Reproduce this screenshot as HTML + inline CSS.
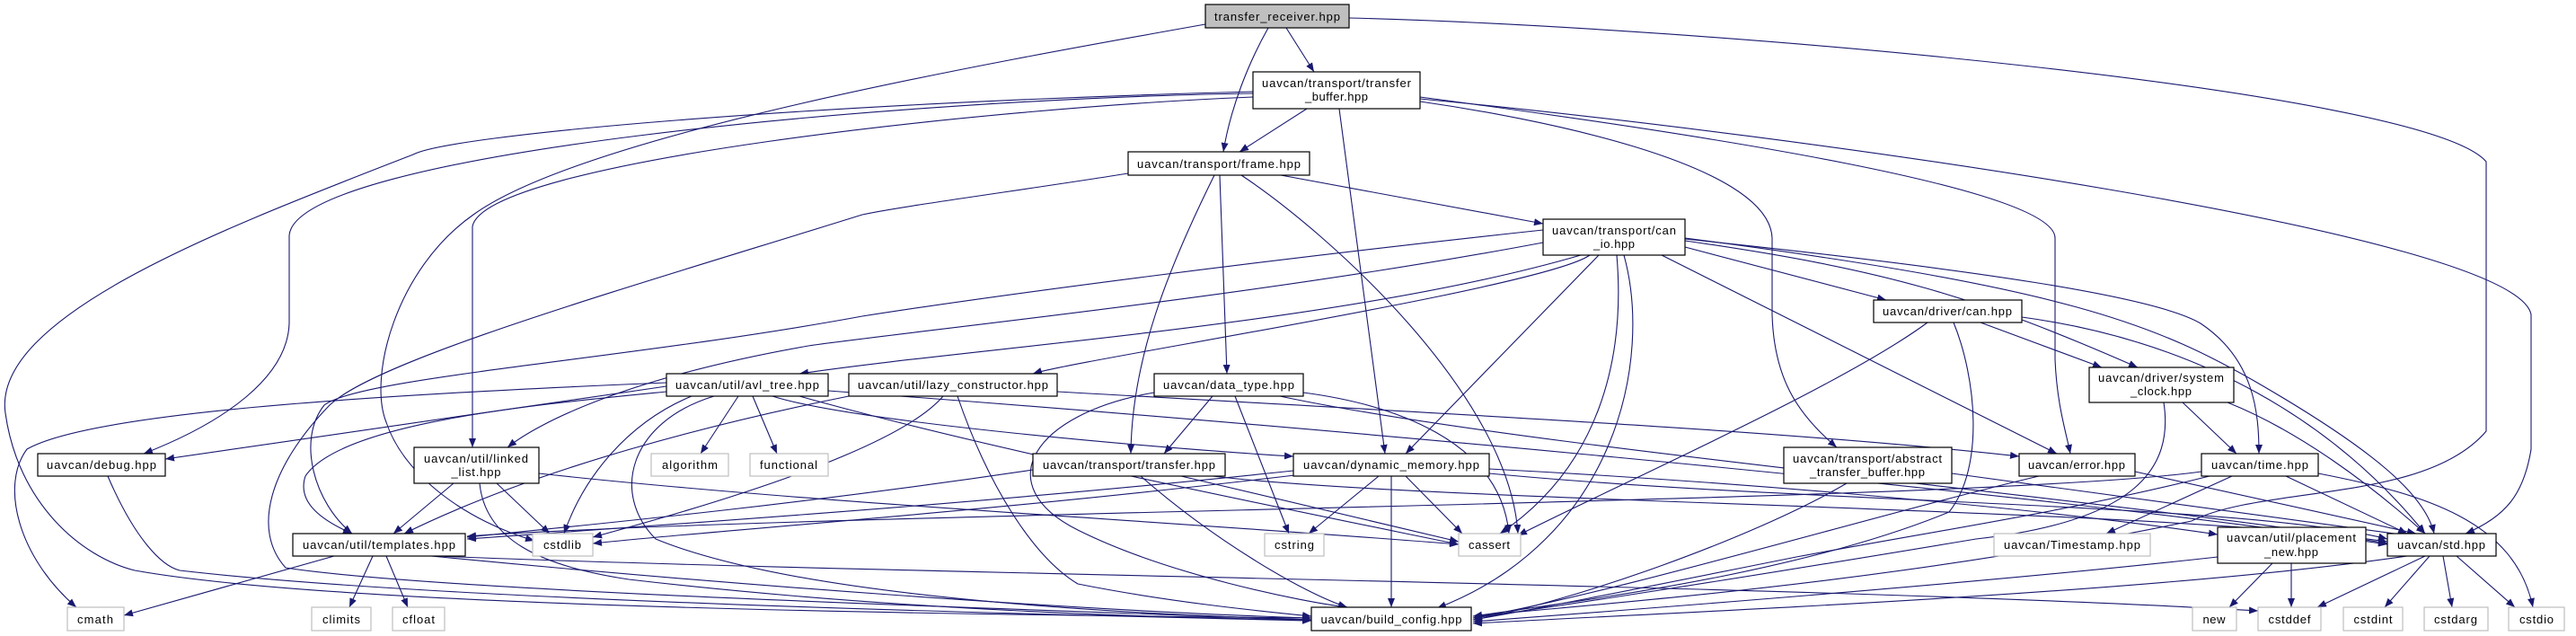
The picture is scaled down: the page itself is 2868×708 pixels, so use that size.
<!DOCTYPE html>
<html><head><meta charset="utf-8"><style>
html,body{margin:0;padding:0;background:#fff;}
svg{display:block;}
text{font-family:"Liberation Sans","DejaVu Sans",sans-serif;font-size:13px;fill:#000;text-anchor:middle;}
.e{fill:none;stroke:#191970;stroke-width:1.1;marker-end:url(#a);}
.n{fill:#fff;stroke:#000;stroke-width:1.2;}
.g{fill:#fff;stroke:#bfbfbf;stroke-width:1.2;}
</style></head><body>
<svg width="2868" height="708" viewBox="0 0 2868 708" xmlns="http://www.w3.org/2000/svg">
<defs><marker id="a" viewBox="0 0 10 8" refX="10" refY="4" markerWidth="10" markerHeight="8" markerUnits="userSpaceOnUse" orient="auto"><path d="M0,0 L10,4 L0,8 z" fill="#191970"/></marker></defs>
<g>
<path class="e" d="M1432,31 L1463,80"/>
<path class="e" d="M1412,31 C1390,70 1370,120 1362,169"/>
<path class="e" d="M1342,27 C1100,70 650,150 527,239 C440,300 410,420 430,470 C450,530 520,580 595,602"/>
<path class="e" d="M1502,20 C1900,30 2700,100 2768,180 L2768,480 C2700,560 2520,540 2440,580 C2100,650 1800,670 1640,686"/>
<path class="e" d="M1581,110 C2000,150 2800,260 2818,350 L2818,500 C2810,550 2790,575 2745,594"/>
<path class="e" d="M1581,108 C1900,150 2288,210 2288,265 L2288,400 C2290,450 2300,480 2305,505"/>
<path class="e" d="M1581,113 C1700,130 1970,180 1973,265 L1973,350 C1975,420 2000,460 2045,498"/>
<path class="e" d="M1491,121 L1542,505"/>
<path class="e" d="M1455,121 L1380,169"/>
<path class="e" d="M1395,108 C1100,120 540,180 526,252 L526,498"/>
<path class="e" d="M1395,104 C1000,110 330,170 322,262 L322,360 C320,420 250,470 160,505"/>
<path class="e" d="M1395,102 C900,115 500,150 460,172 C260,250 -10,350 6,460 C20,560 90,620 150,635 C400,680 1200,685 1460,688"/>
<path class="e" d="M1426,195 L1718,249"/>
<path class="e" d="M1358,195 L1366,416"/>
<path class="e" d="M1352,195 C1300,300 1260,400 1259,505"/>
<path class="e" d="M1382,195 C1480,260 1680,440 1690,594"/>
<path class="e" d="M1256,193 C1150,210 1000,230 960,239 C700,320 420,400 367,451 C300,520 280,590 318,632 C500,660 1200,680 1460,690"/>
<path class="e" d="M1760,284 C1500,360 1100,385 890,416"/>
<path class="e" d="M1770,284 C1720,320 1200,400 1150,416"/>
<path class="e" d="M1718,270 C1400,330 1000,370 900,385 C700,420 600,470 565,498"/>
<path class="e" d="M1718,256 C1400,290 1100,330 960,352 C700,400 400,420 361,451 C330,490 350,560 392,594"/>
<path class="e" d="M1780,284 L1565,505"/>
<path class="e" d="M1800,284 C1810,400 1780,520 1670,594"/>
<path class="e" d="M1808,284 C1840,400 1800,600 1600,677"/>
<path class="e" d="M1876,275 L2100,334"/>
<path class="e" d="M1876,268 C2100,300 2200,330 2380,409"/>
<path class="e" d="M1876,266 C2200,300 2400,330 2450,360 C2510,400 2515,460 2515,505"/>
<path class="e" d="M1876,265 C2300,320 2400,360 2520,430 C2640,500 2700,550 2710,594"/>
<path class="e" d="M1850,284 L2290,505"/>
<path class="e" d="M2205,359 L2340,409"/>
<path class="e" d="M2251,353 C2450,380 2600,470 2700,594"/>
<path class="e" d="M2146,359 C2050,430 1800,540 1690,596"/>
<path class="e" d="M2175,359 C2200,420 2210,520 2170,570 C2000,640 1750,670 1640,686"/>
<path class="e" d="M2430,448 L2490,505"/>
<path class="e" d="M2480,448 C2560,480 2640,540 2700,594"/>
<path class="e" d="M2409,448 C2420,520 2380,580 2200,600 C1900,650 1700,680 1640,688"/>
<path class="e" d="M2545,530 L2680,594"/>
<path class="e" d="M2485,530 L2345,594"/>
<path class="e" d="M2581,527 C2700,550 2800,580 2820,676"/>
<path class="e" d="M2451,525 C2200,560 900,570 520,597"/>
<path class="e" d="M2460,530 C2300,570 2160,590 2000,620 C1800,660 1700,680 1640,690"/>
<path class="e" d="M2377,525 L2690,594"/>
<path class="e" d="M2270,530 C2100,570 1800,660 1640,688"/>
<path class="e" d="M2173,527 L2680,596"/>
<path class="e" d="M2056,538 C1950,600 1750,670 1640,690"/>
<path class="e" d="M2530,627 L2482,676"/>
<path class="e" d="M2551,627 L2551,676"/>
<path class="e" d="M2469,620 C2200,650 1800,680 1640,692"/>
<path class="e" d="M2700,619 L2580,676"/>
<path class="e" d="M2705,619 L2655,676"/>
<path class="e" d="M2720,619 L2730,676"/>
<path class="e" d="M2735,619 L2800,676"/>
<path class="e" d="M2680,619 C2400,660 1900,680 1640,694"/>
<path class="e" d="M1440,524 C1100,560 800,580 520,600"/>
<path class="e" d="M1535,530 L1457,594"/>
<path class="e" d="M1565,530 L1628,594"/>
<path class="e" d="M1549,530 L1549,676"/>
<path class="e" d="M1658,527 C2000,560 2500,560 2658,600"/>
<path class="e" d="M1658,522 C2000,540 2300,570 2469,595"/>
<path class="e" d="M1450,528 C1100,570 800,590 660,605"/>
<path class="e" d="M1150,523 C900,560 700,580 520,598"/>
<path class="e" d="M1315,530 L1624,603"/>
<path class="e" d="M1270,530 C1350,600 1450,660 1500,676"/>
<path class="e" d="M1350,530 C1600,560 2400,565 2658,603"/>
<path class="e" d="M1350,441 L1296,505"/>
<path class="e" d="M1375,441 L1435,594"/>
<path class="e" d="M1451,437 C1550,450 1670,490 1680,594"/>
<path class="e" d="M1285,437 C1150,460 1100,540 1200,590 C1300,640 1450,670 1500,676"/>
<path class="e" d="M1425,441 C1700,500 2400,560 2658,605"/>
<path class="e" d="M950,440 C800,470 600,520 450,594"/>
<path class="e" d="M1177,436 C1600,460 2000,480 2248,508"/>
<path class="e" d="M1066,441 C1100,540 1150,620 1200,650 C1300,670 1400,680 1460,686"/>
<path class="e" d="M1050,441 C1000,500 800,560 660,598"/>
<path class="e" d="M742,430 L184,511"/>
<path class="e" d="M742,436 C600,450 380,470 340,530 C330,560 360,580 392,594"/>
<path class="e" d="M770,441 C700,470 650,530 628,594"/>
<path class="e" d="M822,441 L780,505"/>
<path class="e" d="M838,441 L865,505"/>
<path class="e" d="M860,441 C950,470 1300,500 1440,508"/>
<path class="e" d="M795,441 C700,470 680,550 730,600 C900,670 1300,685 1460,690"/>
<path class="e" d="M742,426 C400,440 100,460 30,500 C0,540 20,620 85,676"/>
<path class="e" d="M890,441 C1100,500 1400,560 1624,606"/>
<path class="e" d="M922,435 C1400,470 2200,540 2658,606"/>
<path class="e" d="M505,538 L438,594"/>
<path class="e" d="M553,538 L612,594"/>
<path class="e" d="M534,538 C540,600 600,630 700,645 C1000,680 1300,688 1460,690"/>
<path class="e" d="M600,527 C900,560 1300,580 1624,606"/>
<path class="e" d="M120,530 C150,600 180,630 200,635 C500,670 1200,685 1460,691"/>
<path class="e" d="M372,619 L138,685"/>
<path class="e" d="M415,619 L389,676"/>
<path class="e" d="M430,619 L454,676"/>
<path class="e" d="M480,619 C800,650 1200,680 1460,688"/>
<path class="e" d="M486,619 C1000,640 2000,650 2514,680"/>
</g>
<g>
<rect x="1342" y="5" width="160" height="26" fill="#bfbfbf" stroke="#000" stroke-width="1.2"/><text x="1422" y="23" textLength="140">transfer_receiver.hpp</text>
<rect class="n" x="1395" y="80" width="186" height="41"/><text x="1488" y="97" textLength="166">uavcan/transport/transfer</text><text x="1488" y="112" textLength="70">_buffer.hpp</text>
<rect class="n" x="1256" y="169" width="202" height="26"/><text x="1357" y="187" textLength="182">uavcan/transport/frame.hpp</text>
<rect class="n" x="1718" y="244" width="158" height="40"/><text x="1797" y="261" textLength="138">uavcan/transport/can</text><text x="1797" y="276" textLength="46">_io.hpp</text>
<rect class="n" x="742" y="416" width="180" height="25"/><text x="832" y="433" textLength="160">uavcan/util/avl_tree.hpp</text>
<rect class="n" x="945" y="416" width="232" height="25"/><text x="1061" y="433" textLength="212">uavcan/util/lazy_constructor.hpp</text>
<rect class="n" x="1285" y="416" width="166" height="25"/><text x="1368" y="433" textLength="146">uavcan/data_type.hpp</text>
<rect class="n" x="42" y="505" width="142" height="25"/><text x="113" y="522" textLength="122">uavcan/debug.hpp</text>
<rect class="n" x="461" y="498" width="139" height="40"/><text x="530" y="515" textLength="116">uavcan/util/linked</text><text x="530" y="530" textLength="55">_list.hpp</text>
<rect class="g" x="725" y="505" width="86" height="25"/><text x="768" y="522" textLength="62">algorithm</text>
<rect class="g" x="835" y="505" width="87" height="25"/><text x="878" y="522" textLength="64">functional</text>
<rect class="n" x="1150" y="505" width="214" height="25"/><text x="1257" y="522" textLength="192">uavcan/transport/transfer.hpp</text>
<rect class="n" x="1440" y="505" width="218" height="25"/><text x="1549" y="522" textLength="196">uavcan/dynamic_memory.hpp</text>
<rect class="n" x="1986" y="498" width="187" height="40"/><text x="2079" y="515" textLength="166">uavcan/transport/abstract</text><text x="2079" y="530" textLength="128">_transfer_buffer.hpp</text>
<rect class="n" x="2248" y="505" width="129" height="25"/><text x="2312" y="522" textLength="108">uavcan/error.hpp</text>
<rect class="n" x="2451" y="505" width="130" height="25"/><text x="2516" y="522" textLength="108">uavcan/time.hpp</text>
<rect class="n" x="2086" y="334" width="165" height="25"/><text x="2168" y="351" textLength="144">uavcan/driver/can.hpp</text>
<rect class="n" x="2326" y="409" width="161" height="39"/><text x="2406" y="425" textLength="140">uavcan/driver/system</text><text x="2406" y="440" textLength="68">_clock.hpp</text>
<rect class="n" x="326" y="594" width="192" height="25"/><text x="422" y="611" textLength="170">uavcan/util/templates.hpp</text>
<rect class="g" x="593" y="594" width="67" height="25"/><text x="626" y="611" textLength="42">cstdlib</text>
<rect class="g" x="1408" y="594" width="66" height="25"/><text x="1441" y="611" textLength="44">cstring</text>
<rect class="g" x="1624" y="594" width="69" height="25"/><text x="1658" y="611" textLength="46">cassert</text>
<rect class="g" x="2220" y="594" width="174" height="25"/><text x="2307" y="611" textLength="152">uavcan/Timestamp.hpp</text>
<rect class="n" x="2469" y="587" width="165" height="40"/><text x="2551" y="603" textLength="144">uavcan/util/placement</text><text x="2551" y="619" textLength="60">_new.hpp</text>
<rect class="n" x="2658" y="594" width="121" height="25"/><text x="2718" y="611" textLength="98">uavcan/std.hpp</text>
<rect class="g" x="75" y="676" width="63" height="26"/><text x="106" y="694" textLength="40">cmath</text>
<rect class="g" x="347" y="676" width="66" height="26"/><text x="380" y="694" textLength="42">climits</text>
<rect class="g" x="437" y="676" width="58" height="26"/><text x="466" y="694" textLength="36">cfloat</text>
<rect class="n" x="1460" y="676" width="178" height="26"/><text x="1549" y="694" textLength="157">uavcan/build_config.hpp</text>
<rect class="g" x="2441" y="676" width="49" height="26"/><text x="2465" y="694" textLength="25">new</text>
<rect class="g" x="2514" y="676" width="70" height="26"/><text x="2549" y="694" textLength="47">cstddef</text>
<rect class="g" x="2609" y="676" width="66" height="26"/><text x="2642" y="694" textLength="43">cstdint</text>
<rect class="g" x="2699" y="676" width="71" height="26"/><text x="2734" y="694" textLength="48">cstdarg</text>
<rect class="g" x="2793" y="676" width="62" height="26"/><text x="2824" y="694" textLength="38">cstdio</text>
</g>
</svg>
</body></html>
